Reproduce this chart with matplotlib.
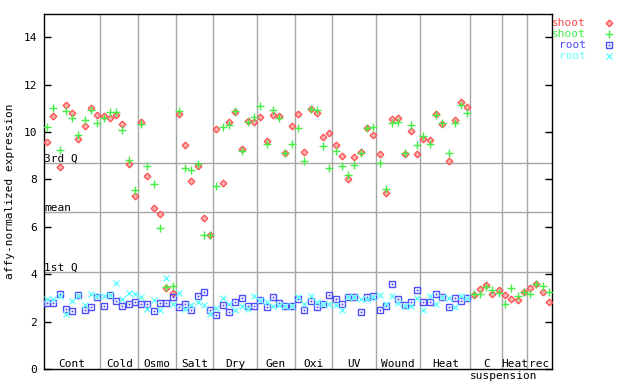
import numpy as np
import matplotlib
matplotlib.use("Agg")
import matplotlib.pyplot as plt

# experiment groups along the x axis and how many samples each holds
groups = ["Cont", "Cold", "Osmo", "Salt", "Dry", "Gen", "Oxi", "UV", "Wound", "Heat", "C", "Heat", "rec"]
group_sizes = [9, 6, 6, 6, 7, 6, 6, 7, 7, 8, 5, 4, 4]

# reference lines
q3_value = 8.68
mean_value = 6.61
q1_value = 4.08

shoot_red = [9.57, 10.67, 8.51, 11.13, 10.79, 9.69, 10.24, 11.00, 10.71,
             10.67, 10.58, 10.71, 10.33, 8.64, 7.29,
             10.41, 8.13, 6.78, 6.53, 3.40, 3.21,
             10.75, 9.44, 7.92, 8.55, 6.36, 5.64,
             10.12, 7.84, 10.41, 10.83, 9.27, 10.46, 10.41,
             10.62, 9.61, 10.71, 10.67, 9.10, 10.24,
             10.75, 9.15, 10.96, 10.79, 9.78, 9.95,
             9.44, 8.98, 8.01, 8.93, 9.15, 10.16, 9.86,
             9.06, 7.42, 10.54, 10.58, 9.06, 10.03, 9.06,
             9.69, 9.65, 10.75, 10.33, 8.77, 10.50, 11.26, 11.05,
             3.11, 3.36, 3.53, 3.15, 3.32,
             3.11, 2.94, 2.90, 3.24,
             3.41, 3.57, 3.24, 2.81]
shoot_green = [10.20, 11.00, 9.23, 10.88, 10.58, 9.86, 10.50, 10.92, 10.37,
               10.58, 10.83, 10.83, 10.07, 8.84, 7.54,
               10.33, 8.55, 7.80, 5.94, 3.46, 3.50,
               10.88, 8.47, 8.39, 8.64, 5.64, 5.64,
               7.71, 10.20, 10.29, 10.88, 9.19, 10.41, 10.62,
               11.09, 9.48, 10.92, 10.58, 9.10, 9.48,
               10.16, 8.77, 10.96, 10.92, 9.40, 8.47,
               9.19, 8.55, 8.18, 8.60, 9.10, 10.16, 10.20,
               8.68, 7.58, 10.37, 10.41, 9.10, 10.29, 9.44,
               9.82, 9.48, 10.71, 10.37, 9.10, 10.37, 11.13, 10.79,
               3.15, 3.15, 3.45, 3.32, 3.19,
               2.73, 3.41, 3.07, 3.24,
               3.15, 3.57, 3.49, 3.24]
root_blue = [2.77, 2.77, 3.15, 2.52, 2.43, 3.11, 2.48, 2.60, 3.03,
             2.65, 3.11, 2.86, 2.65, 2.73, 2.81,
             2.73, 2.73, 2.43, 2.77, 2.77, 3.03,
             2.60, 2.73, 2.48, 3.07, 3.24, 2.48,
             2.27, 2.69, 2.39, 2.81, 2.98, 2.65, 2.65,
             2.90, 2.60, 3.02, 2.77, 2.65, 2.65,
             2.94, 2.48, 2.86, 2.60, 2.73, 3.11,
             2.94, 2.73, 3.02, 3.02, 2.39, 3.02, 3.07,
             2.48, 2.65, 3.57, 2.94, 2.69, 2.81, 3.32,
             2.81, 2.81, 3.15, 3.02, 2.60, 2.98, 2.86, 2.98]
root_cyan = [2.94, 2.94, 3.10, 2.31, 2.86, 3.08, 2.69, 3.15, 3.07,
             3.07, 3.11, 3.62, 2.94, 3.19, 3.15,
             3.03, 2.52, 2.90, 2.48, 3.83, 2.73,
             3.19, 2.52, 2.69, 2.81, 2.69, 2.31,
             2.56, 2.98, 2.73, 2.48, 2.65, 2.52, 3.07,
             2.90, 2.81, 2.65, 2.69, 2.65, 2.65,
             3.02, 2.73, 3.07, 2.81, 2.73, 2.73,
             2.69, 2.48, 3.02, 3.02, 2.94, 2.94, 3.02,
             3.11, 2.73, 3.07, 2.77, 2.65, 2.65, 2.98,
             2.48, 3.07, 2.73, 3.02, 2.98, 2.60, 3.07, 2.98]

RED, GREEN, BLUE, CYAN = "#ff4d4d", "#44ee44", "#4d4dff", "#66ffff"
GRID = "#a6a6a6"
plt.rcParams["font.family"] = "DejaVu Sans Mono"

W, H = 640, 384
fig = plt.figure(figsize=(6.4, 3.84), dpi=100)
ax = fig.add_axes([44 / W, 15 / H, 508 / W, 355.4 / H])

n_total = len(shoot_red)
ax.set_xlim(-0.5, n_total - 0.5)
ax.set_ylim(0, 15)

# group separators and labels
bounds = np.concatenate([[0], np.cumsum(group_sizes)]) - 0.5
for b in bounds[1:-1]:
    ax.axvline(b, color=GRID, lw=1.0, zorder=1)
for name, lo, hi in zip(groups, bounds[:-1], bounds[1:]):
    ax.text((lo + hi) / 2, 0.1, name, ha="center", va="baseline", fontsize=8)
susp_lo = bounds[groups.index("C")]
ax.text((susp_lo + bounds[-1]) / 2 - 1.2, -0.42, "suspension", ha="center", va="baseline",
        fontsize=8, clip_on=False)

# quartile/mean lines
for val, lab in [(q3_value, "3rd Q"), (mean_value, "mean"), (q1_value, "1st Q")]:
    ax.axhline(val, color=GRID, lw=1.0, zorder=1)
    ax.text(-0.45, val + 0.06, lab, ha="left", va="baseline", fontsize=8)

x_shoot = np.arange(n_total)
x_root = np.arange(len(root_blue))
ax.plot(x_shoot, shoot_red, ls="none", marker="D", ms=3.4, mfc="#ffb0b0", mec=RED, mew=0.9, zorder=3)
ax.plot(x_shoot, shoot_green, ls="none", marker="+", ms=6, mec=GREEN, mew=1.0, zorder=4)
ax.plot(x_root, root_blue, ls="none", marker="s", ms=4.5, mfc="none", mec=BLUE, mew=1.0, zorder=3)
ax.plot(x_root, root_blue, ls="none", marker="s", ms=0.9, mfc=BLUE, mec=BLUE, mew=0.3, zorder=3)
ax.plot(x_root, root_cyan, ls="none", marker="x", ms=4.5, mec=CYAN, mew=1.0, zorder=4)

ax.set_yticks(np.arange(0, 15, 2))
ax.set_xticks([])
ax.tick_params(axis="y", direction="in", length=5, width=1, right=True, labelsize=8, pad=5)
for s in ax.spines.values():
    s.set_linewidth(1.0)
    s.set_color("black")
ax.set_ylabel("affy-normalized expression", fontsize=8, labelpad=6)

# legend drawn outside the axes, on the right
legend_rows = [("shoot", RED, dict(marker="D", ms=3.4, mfc="#ffb0b0", mec=RED, mew=0.9)),
               ("shoot", GREEN, dict(marker="+", ms=6, mec=GREEN, mew=1.0)),
               ("root", BLUE, dict(marker="s", ms=4.5, mfc="none", mec=BLUE, mew=1.0)),
               ("root", CYAN, dict(marker="x", ms=4.5, mec=CYAN, mew=1.0))]
for k, (lab, col, mk) in enumerate(legend_rows):
    ypx = 23.3 + 11 * k
    fig.text(586 / W, 1 - ypx / H, lab, color=col, ha="right", va="center", fontsize=8)
    fig.add_artist(plt.Line2D([609 / W], [1 - ypx / H], ls="none", transform=fig.transFigure, **mk))
    if col == BLUE:
        fig.add_artist(plt.Line2D([609 / W], [1 - ypx / H], ls="none", marker="s", ms=0.9,
                                  mfc=BLUE, mec=BLUE, mew=0.3, transform=fig.transFigure))

fig.savefig("out.png", dpi=100)
